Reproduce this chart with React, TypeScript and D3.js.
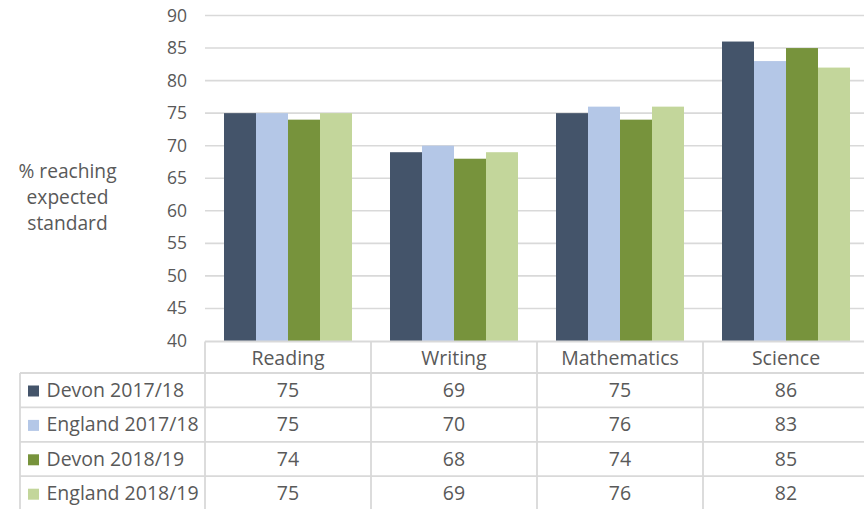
import React from "react";
import * as d3 from "d3";

const categories = ["Reading", "Writing", "Mathematics", "Science"];
const seriesNames = ["Devon 2017/18", "England 2017/18", "Devon 2018/19", "England 2018/19"];
const devon1718 = [75, 69, 75, 86];
const england1718 = [75, 70, 76, 83];
const devon1819 = [74, 68, 74, 85];
const england1819 = [75, 69, 76, 82];
const seriesValues = [devon1718, england1718, devon1819, england1819];
const seriesColors = ["#44546a", "#b4c7e7", "#77933c", "#c3d69b"];
const yTicks = [40, 45, 50, 55, 60, 65, 70, 75, 80, 85, 90];
const axisTitle = ["% reaching", "expected", "standard"];

const W = 864;
const H = 509;
const plotLeft = 205;
const plotRight = 869;
const plotTop = 15.5;
const plotBottom = 341;
const tableTop = 341.5;
const headerH = 31.5;
const rowH = 34.4;
const labelLeft = 20;
const textColor = "#595959";
const gridColor = "#d9d9d9";
const font = "'Open Sans', sans-serif";
const tableFont = 19.5;

export default function App() {
  const y = d3.scaleLinear().domain([40, 90]).range([plotBottom, plotTop]);
  const x = d3
    .scaleBand<string>()
    .domain(categories)
    .range([plotLeft, plotRight])
    .paddingInner(0.229)
    .paddingOuter(0.1145);
  const xs = d3
    .scaleBand<string>()
    .domain(seriesNames)
    .range([0, x.bandwidth()])
    .padding(0);
  const step = x.step();
  const colStart = (i: number) => plotLeft + i * step;

  const rowTop = (r: number) => tableTop + headerH + r * rowH;

  return (
    <svg
      width={W}
      height={H}
      style={{ position: "absolute", left: 0, top: 0, background: "#fff" }}
      fontFamily={font}
    >
      <rect x={0} y={0} width={W} height={H} fill="#fff" />
      {/* gridlines */}
      {yTicks.slice(1).map((t) => (
        <line
          key={t}
          x1={plotLeft}
          x2={W}
          y1={y(t)}
          y2={y(t)}
          stroke={gridColor}
          strokeWidth={1.6}
        />
      ))}
      {/* y tick labels */}
      {yTicks.map((t) => (
        <text
          key={t}
          x={187}
          y={y(t) + 6}
          textAnchor="end"
          fontSize={17.5}
          fill={textColor}
        >
          {t}
        </text>
      ))}
      {/* axis title */}
      {axisTitle.map((line, i) => (
        <text
          key={line}
          x={67.5}
          y={177.5 + i * 26.3}
          textAnchor="middle"
          fontSize={19.2}
          fill={textColor}
        >
          {line}
        </text>
      ))}
      {/* bars */}
      {categories.map((c, ci) => (
        <g key={c} transform={`translate(${x(c)},0)`}>
          {seriesNames.map((s, si) => {
            const v = seriesValues[si][ci];
            return (
              <rect
                key={s}
                x={xs(s)}
                y={y(v)}
                width={xs.bandwidth()}
                height={plotBottom - y(v)}
                fill={seriesColors[si]}
              />
            );
          })}
        </g>
      ))}
      {/* table lines */}
      <g stroke={gridColor} strokeWidth={1.8}>
        <line x1={plotLeft} x2={W} y1={tableTop} y2={tableTop} />
        {seriesNames.map((s, r) => (
          <line key={s} x1={labelLeft} x2={W} y1={rowTop(r)} y2={rowTop(r)} />
        ))}
        <line x1={labelLeft} x2={labelLeft} y1={rowTop(0)} y2={H} />
        {categories.map((c, i) => (
          <line key={c} x1={colStart(i)} x2={colStart(i)} y1={tableTop} y2={H} />
        ))}
        <line x1={colStart(4)} x2={colStart(4)} y1={tableTop} y2={H} />
      </g>
      {/* header */}
      {categories.map((c, i) => (
        <text
          key={c}
          x={colStart(i) + step / 2}
          y={tableTop + 23}
          textAnchor="middle"
          fontSize={tableFont}
          fill={textColor}
        >
          {c}
        </text>
      ))}
      {/* rows */}
      {seriesNames.map((s, r) => (
        <g key={s}>
          <rect
            x={28}
            y={rowTop(r) + 12.5}
            width={11}
            height={11}
            fill={seriesColors[r]}
          />
          <text x={46.5} y={rowTop(r) + 24} fontSize={tableFont} fill={textColor}>
            {s}
          </text>
          {categories.map((c, ci) => (
            <text
              key={c}
              x={colStart(ci) + step / 2}
              y={rowTop(r) + 24}
              textAnchor="middle"
              fontSize={tableFont}
              fill={textColor}
            >
              {seriesValues[r][ci]}
            </text>
          ))}
        </g>
      ))}
    </svg>
  );
}
